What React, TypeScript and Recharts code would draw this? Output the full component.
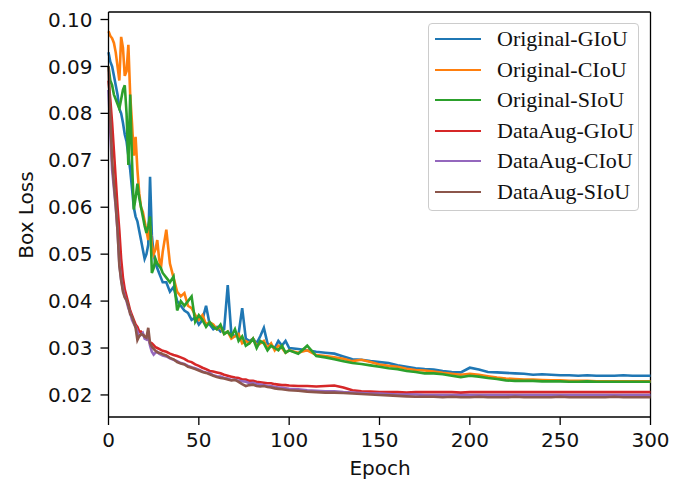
import React from 'react';
import { LineChart, Line, XAxis, YAxis, Legend, ReferenceLine } from 'recharts';

// epochs sampled from the curves (dense at the start, sparser later)
const epochs = [
  0, 1, 2, 3, 4, 5, 6, 7, 8, 9, 10, 11, 12, 13, 14, 15, 16, 17, 18, 19, 20,
  21, 22, 23, 24, 25, 26, 27, 28, 29, 30,
  32, 34, 36, 38, 40, 42, 44, 46, 48, 50, 52, 54, 56, 58, 60, 62, 64, 66, 68, 70,
  72, 74, 76, 78, 80, 82, 84, 86, 88, 90, 92, 94, 96, 98, 100,
  105, 110, 115, 120, 125, 130, 135, 140, 145, 150, 155, 160, 165, 170, 175, 180,
  185, 190, 195, 200, 205, 210, 215, 220, 225, 230, 235, 240, 245, 250, 255, 260,
  265, 270, 275, 280, 285, 290, 295, 300,
];

const originalGIoU = [
  0.093, 0.091, 0.090, 0.088, 0.086, 0.084, 0.081, 0.080, 0.078, 0.0755,
  0.074, 0.071, 0.068, 0.064, 0.060, 0.058, 0.057, 0.055, 0.053, 0.051,
  0.049, 0.050, 0.052, 0.0665, 0.054, 0.050, 0.048, 0.047, 0.046, 0.045, 0.044,
  0.044, 0.042, 0.043, 0.040, 0.039, 0.038, 0.0375, 0.036, 0.0365, 0.035,
  0.036, 0.039, 0.035, 0.034, 0.0345, 0.0335, 0.034, 0.0434, 0.033, 0.0325,
  0.033, 0.0385, 0.032, 0.0315, 0.032, 0.031, 0.0325, 0.0343, 0.031, 0.0305,
  0.030, 0.0315, 0.0305, 0.0315, 0.030,
  0.0298, 0.0295, 0.0292, 0.029, 0.0288, 0.0282, 0.0276, 0.0275, 0.0272, 0.027,
  0.0268, 0.0263, 0.026, 0.0257, 0.0255, 0.0254, 0.0251, 0.0249, 0.0248, 0.0258,
  0.0254, 0.0249, 0.0248, 0.0247, 0.0246, 0.0245, 0.0243, 0.0244, 0.0243, 0.0242,
  0.0242, 0.0241, 0.0242, 0.0241, 0.0241, 0.0241, 0.0242, 0.0241, 0.0241, 0.0241,
];

const originalCIoU = [
  0.0975, 0.0965, 0.096, 0.095, 0.093, 0.090, 0.087, 0.0963, 0.094, 0.088,
  0.089, 0.0946, 0.084, 0.078, 0.071, 0.075, 0.068, 0.063, 0.060, 0.059,
  0.057, 0.055, 0.053, 0.056, 0.052, 0.050, 0.051, 0.053, 0.049, 0.047, 0.0505,
  0.0552, 0.048, 0.045, 0.042, 0.041, 0.0417, 0.039, 0.0385, 0.037, 0.036,
  0.037, 0.035, 0.0355, 0.035, 0.034, 0.0345, 0.033, 0.0335, 0.032, 0.0325,
  0.033, 0.031, 0.0315, 0.031, 0.032, 0.0305, 0.031, 0.0315, 0.030, 0.031,
  0.0295, 0.0305, 0.030, 0.029, 0.0295,
  0.029, 0.0295, 0.0285, 0.0283, 0.028, 0.0277, 0.0272, 0.0275, 0.027, 0.0265,
  0.0262, 0.026, 0.0256, 0.0253, 0.0252, 0.025, 0.0247, 0.0245, 0.0243, 0.0245,
  0.0243, 0.024, 0.0237, 0.0235, 0.0234, 0.0233, 0.0233, 0.0232, 0.0231, 0.0231,
  0.023, 0.023, 0.023, 0.0229, 0.0229, 0.0229, 0.0229, 0.0229, 0.0229, 0.0229,
];

const originalSIoU = [
  0.090, 0.087, 0.086, 0.084, 0.083, 0.082, 0.081, 0.083, 0.085, 0.086,
  0.080, 0.069, 0.084, 0.070, 0.0595, 0.062, 0.065, 0.062, 0.060, 0.058,
  0.056, 0.0545, 0.056, 0.058, 0.046, 0.047, 0.049, 0.048, 0.0475, 0.047, 0.046,
  0.045, 0.044, 0.0452, 0.038, 0.040, 0.039, 0.040, 0.041, 0.0356, 0.037,
  0.036, 0.0345, 0.0355, 0.0345, 0.034, 0.035, 0.033, 0.0335, 0.0325, 0.034,
  0.0315, 0.0325, 0.0305, 0.031, 0.032, 0.030, 0.0315, 0.031, 0.0295, 0.0305,
  0.030, 0.0295, 0.0305, 0.029, 0.0295,
  0.0288, 0.0305, 0.0283, 0.028, 0.0276, 0.0272, 0.0268, 0.0266, 0.0263, 0.026,
  0.0257, 0.0255, 0.0251, 0.0249, 0.0246, 0.0246, 0.0244, 0.0241, 0.0238, 0.0241,
  0.0239, 0.0236, 0.0234, 0.0231, 0.023, 0.023, 0.023, 0.0229, 0.0229, 0.0229,
  0.0228, 0.0228, 0.0229, 0.0228, 0.0228, 0.0228, 0.0228, 0.0228, 0.0228, 0.0228,
];

const dataAugGIoU = [
  0.087, 0.083, 0.078, 0.072, 0.066, 0.060, 0.055, 0.049, 0.045, 0.0425,
  0.041, 0.0395, 0.038, 0.037, 0.036, 0.035, 0.0345, 0.0335, 0.0335, 0.033,
  0.0325, 0.032, 0.0318, 0.0312, 0.031, 0.0306, 0.0302, 0.030, 0.0298, 0.0296, 0.0294,
  0.0292, 0.0288, 0.0285, 0.0283, 0.028, 0.0277, 0.0272, 0.027, 0.0265, 0.0262,
  0.0258, 0.0255, 0.0251, 0.025, 0.0248, 0.0246, 0.0243, 0.0241, 0.0239, 0.0237,
  0.0236, 0.0233, 0.0233, 0.023, 0.023, 0.0228, 0.0227, 0.0226, 0.0225, 0.0225,
  0.0223, 0.0222, 0.0221, 0.0221, 0.022,
  0.0219, 0.0219, 0.0218, 0.0219, 0.022, 0.0216, 0.021, 0.0208, 0.0207, 0.0206,
  0.0206, 0.0206, 0.0205, 0.0206, 0.0206, 0.0206, 0.0206, 0.0206, 0.0205, 0.0206,
  0.0206, 0.0206, 0.0206, 0.0206, 0.0206, 0.0206, 0.0206, 0.0206, 0.0206, 0.0206,
  0.0206, 0.0206, 0.0206, 0.0206, 0.0206, 0.0206, 0.0206, 0.0206, 0.0206, 0.0206,
];

const dataAugCIoU = [
  0.085, 0.076, 0.068, 0.064, 0.060, 0.055, 0.048, 0.0445, 0.0425, 0.041,
  0.040, 0.0385, 0.0375, 0.036, 0.0352, 0.0345, 0.0335, 0.0325, 0.0328, 0.0332,
  0.032, 0.0318, 0.0325, 0.0305, 0.0292, 0.0286, 0.029, 0.0292, 0.0288, 0.0286, 0.0284,
  0.0282, 0.0278, 0.0275, 0.0272, 0.0268, 0.0266, 0.0262, 0.0259, 0.0257, 0.0254,
  0.025, 0.0248, 0.0247, 0.0242, 0.024, 0.0239, 0.0236, 0.0235, 0.0232, 0.0233,
  0.023, 0.0229, 0.0228, 0.0225, 0.0226, 0.0223, 0.0222, 0.0221, 0.0219, 0.0219,
  0.0217, 0.0216, 0.0215, 0.0214, 0.0213,
  0.0212, 0.021, 0.0209, 0.0208, 0.0208, 0.0206, 0.0205, 0.0204, 0.0203, 0.0203,
  0.0202, 0.0201, 0.0201, 0.0201, 0.020, 0.020, 0.020, 0.020, 0.020, 0.020,
  0.020, 0.020, 0.020, 0.020, 0.020, 0.020, 0.020, 0.020, 0.020, 0.020,
  0.020, 0.020, 0.020, 0.020, 0.020, 0.020, 0.020, 0.020, 0.020, 0.020,
];

const dataAugSIoU = [
  0.090, 0.079, 0.070, 0.065, 0.0605, 0.055, 0.0475, 0.0445, 0.042, 0.0408,
  0.0402, 0.039, 0.0372, 0.0367, 0.0355, 0.0343, 0.0317, 0.0325, 0.033, 0.0328,
  0.0324, 0.0322, 0.0343, 0.031, 0.0303, 0.0298, 0.0294, 0.0291, 0.029, 0.0289, 0.0287,
  0.0284, 0.0279, 0.0276, 0.027, 0.0267, 0.0265, 0.026, 0.0258, 0.0255, 0.0252,
  0.0249, 0.0247, 0.0244, 0.0241, 0.0238, 0.0236, 0.0235, 0.0233, 0.0231, 0.0232,
  0.0228, 0.0223, 0.0219, 0.0221, 0.0222, 0.0219, 0.0218, 0.0219, 0.0217, 0.0216,
  0.0214, 0.0213, 0.0212, 0.0211, 0.021,
  0.0209, 0.0207, 0.0206, 0.0205, 0.0205, 0.0204, 0.0203, 0.0202, 0.0201, 0.020,
  0.0199, 0.0198, 0.0197, 0.0196, 0.0196, 0.0196, 0.0195, 0.0196, 0.0195, 0.0195,
  0.0196, 0.0195, 0.0195, 0.0195, 0.0196, 0.0195, 0.0195, 0.0195, 0.0195, 0.0196,
  0.0195, 0.0195, 0.0195, 0.0195, 0.0195, 0.0196, 0.0195, 0.0195, 0.0195, 0.0195,
];

const xTicks = [0, 50, 100, 150, 200, 250, 300];
const yTicks = [0.02, 0.03, 0.04, 0.05, 0.06, 0.07, 0.08, 0.09, 0.1];
const xDomain: [number, number] = [0, 300];
const yDomain: [number, number] = [0.0153, 0.1016];

const series = [
  { key: 'origG', name: 'Original-GIoU', color: '#1f77b4', values: originalGIoU },
  { key: 'origC', name: 'Original-CIoU', color: '#ff7f0e', values: originalCIoU },
  { key: 'origS', name: 'Original-SIoU', color: '#2ca02c', values: originalSIoU },
  { key: 'augG', name: 'DataAug-GIoU', color: '#d62728', values: dataAugGIoU },
  { key: 'augC', name: 'DataAug-CIoU', color: '#9467bd', values: dataAugCIoU },
  { key: 'augS', name: 'DataAug-SIoU', color: '#8c564b', values: dataAugSIoU },
];

const data = epochs.map((epoch, i) => {
  const row: Record<string, number> = { epoch };
  series.forEach(s => {
    row[s.key] = s.values[i];
  });
  return row;
});

const sans = '"DejaVu Sans", sans-serif';
const serif = '"Liberation Serif", "Times New Roman", serif';

// keep the legend in plotting order (recharts sorts its payload by name)
const LegendBox = () => (
  <div
    style={{
      width: 211,
      height: 188,
      boxSizing: 'border-box',
      border: '1px solid #cccccc',
      borderRadius: 4,
      background: '#fff',
      padding: '0 0 0 6px',
    }}
  >
    {series.map(s => (
      <div key={s.key} style={{ display: 'flex', alignItems: 'center', height: 30.5 }}>
        <span style={{ width: 46, height: 0, borderTop: `2.8px solid ${s.color}`, marginRight: 16 }} />
        <span style={{ fontFamily: serif, fontSize: 22, lineHeight: '30.5px', color: '#111' }}>{s.name}</span>
      </div>
    ))}
  </div>
);

export default function App() {
  return (
    <div style={{ position: 'absolute', left: 0, top: 0, width: 686, height: 484, background: '#fff' }}>
      <LineChart width={686} height={484} data={data} margin={{ top: 12, right: 35.5, bottom: 37, left: 0 }}>
        <XAxis
          dataKey="epoch"
          type="number"
          domain={xDomain}
          ticks={xTicks}
          height={30}
          tickSize={8}
          tickMargin={8}
          stroke="#000"
          strokeWidth={1.3}
          tick={{ fontSize: 20, fill: '#111', fontFamily: sans }}
        />
        <YAxis
          type="number"
          domain={yDomain}
          allowDataOverflow
          ticks={yTicks}
          width={108.5}
          tickSize={8}
          tickMargin={8}
          stroke="#000"
          strokeWidth={1.3}
          tickFormatter={(v: number) => v.toFixed(2)}
          tick={{ fontSize: 20, fill: '#111', fontFamily: sans }}
        />
        <ReferenceLine y={yDomain[1]} stroke="#000" strokeWidth={1.3} />
        <ReferenceLine x={xDomain[1]} stroke="#000" strokeWidth={1.3} />
        <Legend
          layout="vertical"
          align="center"
          verticalAlign="middle"
          content={<LegendBox />}
          wrapperStyle={{ left: 428, top: 23, width: 211, height: 188 }}
        />
        {series.map(s => (
          <Line
            key={s.key}
            dataKey={s.key}
            name={s.name}
            stroke={s.color}
            strokeWidth={2.6}
            dot={false}
            type="linear"
            isAnimationActive={false}
          />
        ))}
      </LineChart>
      <div
        style={{
          position: 'absolute',
          left: 380,
          top: 468,
          transform: 'translate(-50%, -50%)',
          fontFamily: sans,
          fontSize: 20,
          color: '#111',
          whiteSpace: 'nowrap',
        }}
      >
        Epoch
      </div>
      <div
        style={{
          position: 'absolute',
          left: 26,
          top: 214.5,
          transform: 'translate(-50%, -50%) rotate(-90deg)',
          fontFamily: sans,
          fontSize: 20,
          color: '#111',
          whiteSpace: 'nowrap',
        }}
      >
        Box Loss
      </div>
    </div>
  );
}
